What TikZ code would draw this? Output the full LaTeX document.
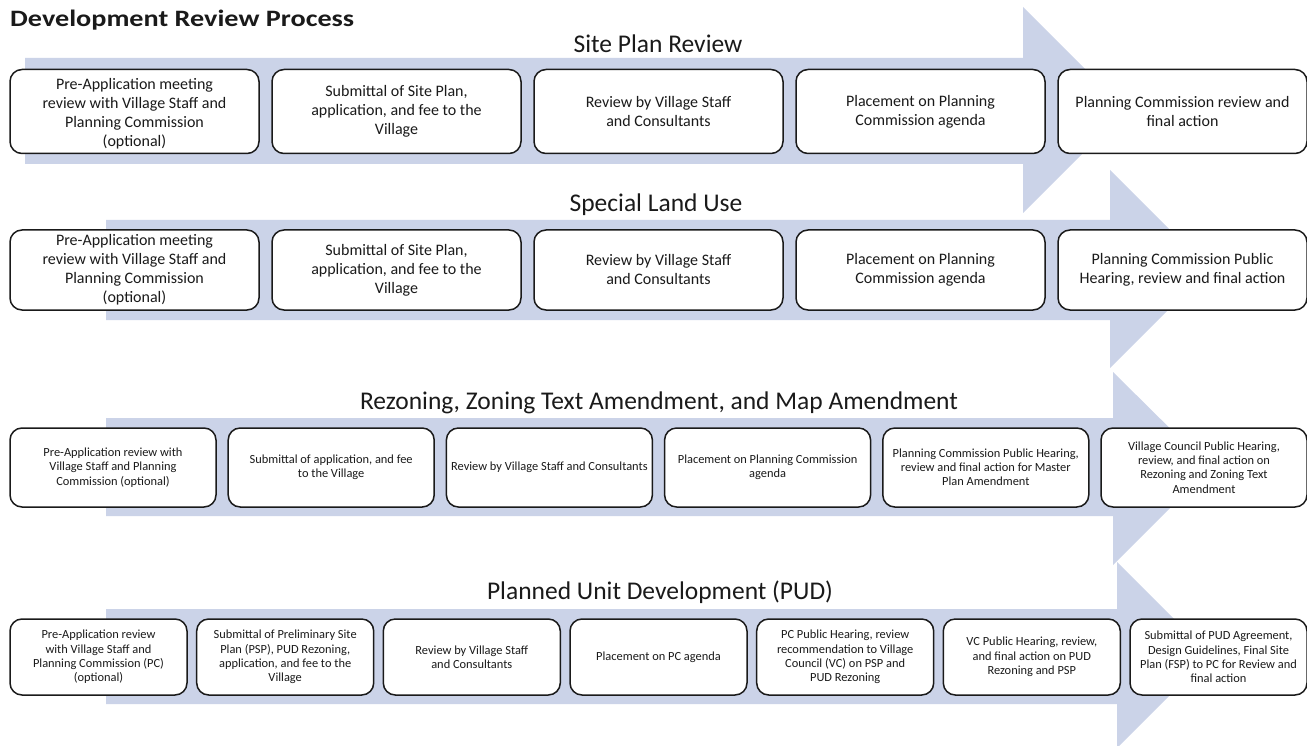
\documentclass[tikz,border=0pt]{standalone}
\usepackage{fontspec}
\setmainfont{Carlito}
\definecolor{arrowblue}{HTML}{CBD3E8}
\definecolor{ink}{HTML}{1A1A1A}
\tikzset{
  flow/.style={fill=arrowblue, draw=none},
  boxbase/.style={draw=ink, line width=1.5pt, rounded corners=12pt, fill=white, align=center, inner xsep=0pt, inner ysep=2pt, text=ink},
  bigbox/.style={boxbase, minimum width=249pt, minimum height=84pt, font=\fontsize{16}{19}\selectfont},
  midbox/.style={boxbase, minimum width=249pt, minimum height=80pt, font=\fontsize{16}{19}\selectfont},
  rzbox/.style={boxbase, minimum width=206pt, minimum height=79pt, font=\fontsize{12.4}{14.2}\selectfont},
  pudbox/.style={boxbase, minimum width=177pt, minimum height=76pt, font=\fontsize{12.4}{14.4}\selectfont},
  rowtitle/.style={font=\fontsize{25.5}{30}\selectfont, text=ink, inner sep=0pt},
}
\begin{document}
\begin{tikzpicture}[x=1pt,y=-1pt]
\useasboundingbox (0,0) rectangle (1307,746);
% arrows
\fill[flow] (25,58) -- (1023,58) -- (1023,7) -- (1126,110) -- (1023,213) -- (1023,164) -- (25,164) -- cycle;
\fill[flow] (106,220) -- (1110,220) -- (1110,170) -- (1209,269) -- (1110,368) -- (1110,320) -- (106,320) -- cycle;
\fill[flow] (106,418) -- (1113,418) -- (1113,372) -- (1210,468) -- (1113,565) -- (1113,516) -- (106,516) -- cycle;
\fill[flow] (106,609) -- (1117,609) -- (1117,562) -- (1210,655) -- (1117,748) -- (1117,704) -- (106,704) -- cycle;
% titles
\node[anchor=west, inner sep=0pt, font=\fontsize{23.5}{28}\selectfont\bfseries, text=ink] (title) at (10,20) {\scalebox{1.2}[1]{Development Review Process}};
\node[rowtitle] (t1) at (658,44) {Site Plan Review};
\node[rowtitle] (t2) at (656,205) {Special Land Use};
\node[rowtitle] (t3) at (659,403) {Rezoning, Zoning Text Amendment, and Map Amendment};
\node[rowtitle] (t4) at (660,592) {Planned Unit Development (PUD)};
% row 1
\node[bigbox] (a1) at (134.5,111.5) {\\[-4pt]Pre-Application meeting\\review with Village Staff and\\Planning Commission\\(optional)};
\node[bigbox] (a2) at (396.5,111.5) {Submittal of Site Plan,\\application, and fee to the\\Village};
\node[bigbox] (a3) at (658.5,111.5) {Review by Village Staff\\and Consultants};
\node[bigbox] (a4) at (920.5,111.5) {Placement on Planning\\Commission agenda};
\node[bigbox] (a5) at (1182.5,111.5) {Planning Commission review and\\final action};
% row 2
\node[midbox] (b1) at (134.5,270) {Pre-Application meeting\\review with Village Staff and\\Planning Commission\\(optional)};
\node[midbox] (b2) at (396.5,270) {Submittal of Site Plan,\\application, and fee to the\\Village};
\node[midbox] (b3) at (658.5,270) {Review by Village Staff\\and Consultants};
\node[midbox] (b4) at (920.5,270) {Placement on Planning\\Commission agenda};
\node[midbox] (b5) at (1182.5,270) {Planning Commission Public\\Hearing, review and final action};
% row 3
\node[rzbox] (c1) at (113,467.5) {Pre-Application review with\\Village Staff and Planning\\Commission (optional)};
\node[rzbox] (c2) at (331.2,467.5) {Submittal of application, and fee\\to the Village};
\node[rzbox] (c3) at (549.4,467.5) {Review by Village Staff and Consultants};
\node[rzbox] (c4) at (767.6,467.5) {Placement on Planning Commission\\agenda};
\node[rzbox] (c5) at (985.8,467.5) {Planning Commission Public Hearing,\\review and final action for Master\\Plan Amendment};
\node[rzbox] (c6) at (1204,467.5) {Village Council Public Hearing,\\review, and final action on\\Rezoning and Zoning Text\\Amendment};
% row 4
\node[pudbox] (d1) at (98.5,657) {Pre-Application review\\with Village Staff and\\Planning Commission (PC)\\(optional)};
\node[pudbox] (d2) at (285.2,657) {Submittal of Preliminary Site\\Plan (PSP), PUD Rezoning,\\application, and fee to the\\Village};
\node[pudbox] (d3) at (471.8,657) {Review by Village Staff\\and Consultants};
\node[pudbox] (d4) at (658.5,657) {Placement on PC agenda};
\node[pudbox] (d5) at (845.2,657) {PC Public Hearing, review\\recommendation to Village\\Council (VC) on PSP and\\PUD Rezoning};
\node[pudbox] (d6) at (1031.8,657) {VC Public Hearing, review,\\and final action on PUD\\Rezoning and PSP};
\node[pudbox] (d7) at (1218.5,657) {Submittal of PUD Agreement,\\Design Guidelines, Final Site\\Plan (FSP) to PC for Review and\\final action};
\end{tikzpicture}
\end{document}
